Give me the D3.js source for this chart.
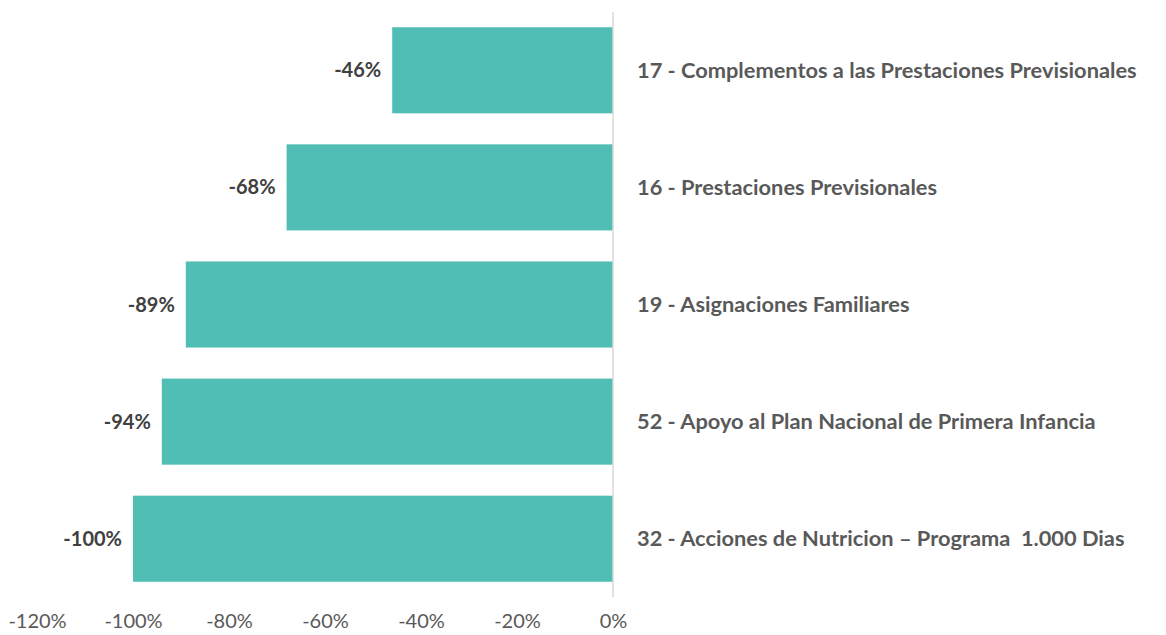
<!DOCTYPE html>
<html>
<head>
<meta charset="utf-8">
<script src="https://cdn.jsdelivr.net/npm/d3@7"></script>
<style>
  body { margin: 0; background: #fff; }
  text { font-family: Lato, "Open Sans", sans-serif; }
</style>
</head>
<body>
<div id="data-vis"></div>
<script>
//Chart data
const categories = [
    "17 - Complementos a las Prestaciones Previsionales",
    "16 - Prestaciones Previsionales",
    "19 - Asignaciones Familiares",
    "52 - Apoyo al Plan Nacional de Primera Infancia",
    "32 - Acciones de Nutricion \u2013 Programa  1.000 Dias"
];
const values = [-46, -68, -89, -94, -100];
const tickValues = [-120, -100, -80, -60, -40, -20, 0];

//Size of the canvas
const w = 1166;
const h = 635;

const svg = d3.select("#data-vis")
    .append("svg")
    .attr("width", w)
    .attr("height", h);

//Scales
const x = d3.scaleLinear()
    .domain([-120, 0])
    .range([37, 613]);

const y = d3.scaleBand()
    .domain(categories)
    .range([12, 597])
    .paddingInner(0.265)
    .paddingOuter(0.13);

//Bars
svg.append("g")
    .selectAll("rect")
    .data(values)
    .enter()
    .append("rect")
    .attr("x", d => x(d))
    .attr("y", (d, i) => y(categories[i]))
    .attr("width", d => x(0) - x(d))
    .attr("height", y.bandwidth())
    .attr("fill", "#50BEB4");

//Zero line
svg.append("line")
    .attr("x1", x(0)).attr("x2", x(0))
    .attr("y1", 12).attr("y2", 597)
    .attr("stroke", "#d9d9d9")
    .attr("stroke-width", 1.5);

//Value labels
svg.append("g")
    .selectAll("text")
    .data(values)
    .enter()
    .append("text")
    .attr("x", d => x(d) - 11)
    .attr("y", (d, i) => y(categories[i]) + y.bandwidth() / 2)
    .attr("dy", "0.35em")
    .attr("text-anchor", "end")
    .attr("fill", "#404040")
    .attr("font-weight", "bold")
    .attr("font-size", 20)
    .text(d => d + "%");

//Category labels
svg.append("g")
    .selectAll("text")
    .data(categories)
    .enter()
    .append("text")
    .attr("x", x(0) + 24)
    .attr("y", d => y(d) + y.bandwidth() / 2)
    .attr("dy", "0.35em")
    .attr("fill", "#595959")
    .attr("font-weight", "bold")
    .attr("font-size", 21.8)
    .style("white-space", "pre")
    .text(d => d);

//Bottom axis (labels only)
const axis = svg.append("g")
    .attr("transform", "translate(0,597)")
    .call(d3.axisBottom(x).tickValues(tickValues).tickFormat(d => d + "%").tickSize(0).tickPadding(17));

axis.select(".domain").remove();
axis.selectAll("text")
    .attr("fill", "#595959")
    .attr("font-size", 20)
    .style("font-family", "Lato, 'Open Sans', sans-serif");
</script>
</body>
</html>
